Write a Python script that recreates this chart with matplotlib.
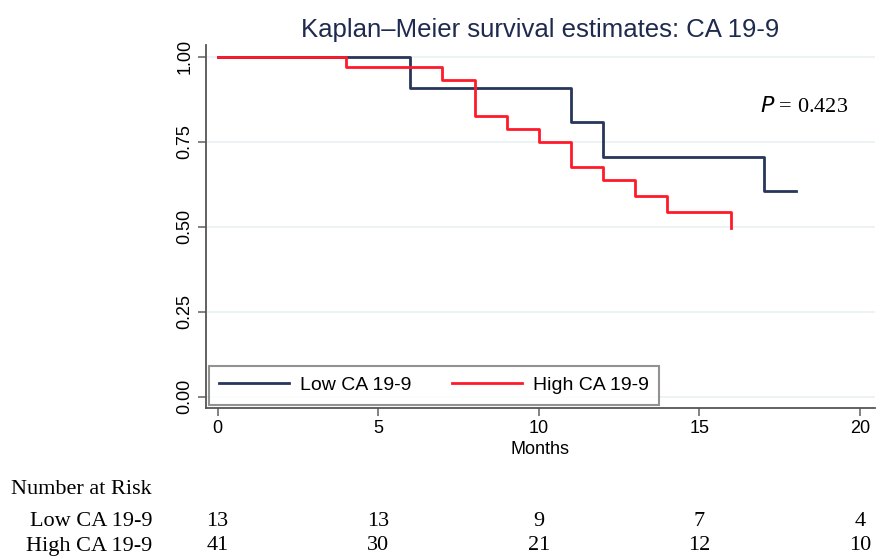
import numpy as np
import matplotlib
matplotlib.use("Agg")
import matplotlib.pyplot as plt

# survival step data
low_t = [0, 6, 11, 12, 17, 18]
low_s = [1.00, 0.909, 0.808, 0.707, 0.606, 0.606]
high_t = [0, 4, 7, 8, 9, 10, 11, 12, 13, 14, 16]
high_s = [1.00, 0.970, 0.932, 0.825, 0.789, 0.750, 0.675, 0.638, 0.590, 0.544, 0.498]

risk_times = [0, 5, 10, 15, 20]
risk_low = [13, 13, 9, 7, 4]
risk_high = [41, 30, 21, 12, 10]
group_names = ["Low CA 19-9", "High CA 19-9"]

NAVY = "#27365a"
RED = "#ff1a2a"
GRID = "#eaf1f3"
SERIF = "Liberation Serif"
SANS = "Liberation Sans"

fig = plt.figure(figsize=(8.79, 5.56), dpi=100)
ax = fig.add_axes([0.234, 0.2667, 0.7615, 0.6523])

ax.step(low_t, low_s, where="post", color=NAVY, lw=2, label=group_names[0])
ax.step(high_t, high_s, where="post", color=RED, lw=2, label=group_names[1])

ax.set_xlim(-0.37, 20.47)
ax.set_ylim(-0.032, 1.035)
ax.set_xticks([0, 5, 10, 15, 20])
ax.set_yticks([0, 0.25, 0.5, 0.75, 1.0])
ax.set_yticklabels(["0.00", "0.25", "0.50", "0.75", "1.00"], rotation=90, va="center")
ax.grid(axis="y", color=GRID, lw=1.2)
ax.set_axisbelow(True)
for side in ["top", "right"]:
    ax.spines[side].set_visible(False)
for side in ["left", "bottom"]:
    ax.spines[side].set_color("#555555")
    ax.spines[side].set_linewidth(1.3)
ax.tick_params(direction="out", length=6, width=1.3, color="#777777",
               labelsize=13, pad=3)
for lab in ax.get_xticklabels() + ax.get_yticklabels():
    lab.set_fontfamily(SANS)
ax.set_xlabel("Months", fontsize=13, family=SANS, labelpad=3)

ax.set_title("Kaplan\u2013Meier survival estimates: CA 19-9", fontsize=18.5,
             family=SANS, color="#1e2b4e", pad=6)

ax.text(0.96, 0.83, r"$\it{P}$ = 0.423", transform=ax.transAxes, ha="right",
        va="center", fontsize=16, family=SERIF)

leg = ax.legend(loc="lower left", bbox_to_anchor=(0.0, 0.0), ncol=2,
                frameon=True, fancybox=False, handlelength=3.6, columnspacing=2.1,
                borderpad=0.55, handletextpad=0.55, borderaxespad=0.15,
                prop={"family": SANS, "size": 14})
leg.get_frame().set_edgecolor("#777777")
leg.get_frame().set_linewidth(1.5)

# number at risk table
fig.text(152 / 879, 1 - 490 / 556, "Number at Risk", ha="right", va="center",
         fontsize=16, family=SERIF)
for row, (name, counts) in enumerate(zip(group_names, [risk_low, risk_high])):
    y_fig = 1 - (522 + 24 * row) / 556
    fig.text(152 / 879, y_fig, name, ha="right", va="center", fontsize=16, family=SERIF)
    for t, n in zip(risk_times, counts):
        x_disp = ax.transData.transform((t, 0))[0]
        x_fig = fig.transFigure.inverted().transform((x_disp, 0))[0]
        fig.text(x_fig, y_fig, str(n), ha="center", va="center", fontsize=16, family=SERIF)

fig.savefig("out.png", dpi=100)
